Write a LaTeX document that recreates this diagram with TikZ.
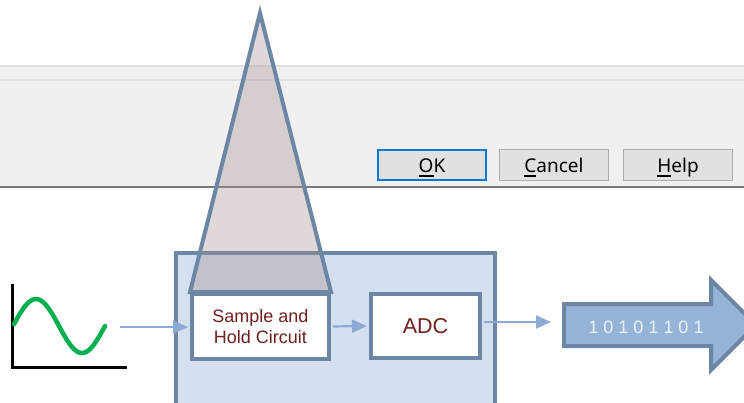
\documentclass[tikz,border=0pt]{standalone}
\usepackage{fontspec}
\setmainfont{Liberation Sans}
\newfontfamily\uifont{Noto Sans}
\usetikzlibrary{arrows.meta}

\definecolor{frame}{RGB}{108,134,163}
\definecolor{panel}{RGB}{212,223,239}
\definecolor{flowblue}{RGB}{141,170,214}
\definecolor{bigfill}{RGB}{150,180,216}
\definecolor{tri}{RGB}{166,143,143}
\definecolor{redtext}{RGB}{112,30,30}
\definecolor{sine}{RGB}{0,176,80}
\definecolor{dlgfill}{RGB}{240,240,240}
\definecolor{dlgline}{RGB}{224,224,224}
\definecolor{dlgedge}{RGB}{120,120,120}
\definecolor{btnfill}{RGB}{225,225,225}
\definecolor{btnedge}{RGB}{173,173,173}
\definecolor{okblue}{RGB}{0,120,215}
\definecolor{bitstext}{RGB}{236,241,248}

% access-key underline for button captions
\newcommand\acckey[1]{\setbox0\hbox{#1}\rlap{\rule[-4.5pt]{\wd0}{1.4pt}}\box0}

\begin{document}
\begin{tikzpicture}[x=1pt,y=-1pt,
  btn/.style={fill=btnfill, draw=btnedge, line width=1pt,
    minimum width=109pt, minimum height=31pt, inner sep=0pt,
    text height=16pt, text depth=2pt,
    font=\uifont\fontsize{19}{22}\selectfont},
  stage/.style={draw=frame, fill=white, line width=4pt, inner sep=0pt,
    text=redtext, align=center},
  flow/.style={draw=flowblue, line width=2.2pt,
    -{Triangle[length=15pt,width=13pt]}}]
\useasboundingbox (0,0) rectangle (744,402);
\clip (0,0) rectangle (744,402);

% dialog strip with its buttons
\fill[dlgfill] (0,66) rectangle (744,187);
\draw[dlgline, line width=2pt] (0,66) -- (744,66);
\draw[dlgline, line width=1.5pt] (0,80) -- (744,80);
\draw[dlgedge, line width=1.5pt] (0,187) -- (744,187);
\node[btn, draw=okblue, line width=2pt, minimum width=108pt, minimum height=30pt] (ok) at (432,165) {\acckey{O}K};
\node[btn] (cancel) at (554,165) {\acckey{C}ancel};
\node[btn] (help) at (678,165) {\acckey{H}elp};

% converter unit
\node[draw=frame, fill=panel, line width=4.5pt, minimum width=319pt, minimum height=160pt] (unit) at (335.5,333) {};
\node[stage, minimum width=137pt, minimum height=65pt, font=\fontsize{18}{21}\selectfont] (sample) at (260.5,326.5) {Sample and\\Hold Circuit};
\node[stage, minimum width=109pt, minimum height=64pt, font=\fontsize{21.5}{24}\selectfont] (adc) at (425.5,326) {ADC};

% magnifying wedge above the sample-and-hold stage
\draw[frame, line width=4pt, fill=tri, fill opacity=0.35, line join=miter]
  (260,13) -- (sample.north west) -- (sample.north east) -- cycle;

% analog input signal
\draw[black, line width=2.7pt] (12.5,284) -- (12.5,367.5) -- (127,367.5);
\draw[sine, line width=4.5pt, line cap=round]
  plot[domain=14:105, samples=80] (\x, {326 - 27*sin((\x-13)/92*360)});

% digital output arrow
\draw[frame, line width=4pt, fill=bigfill, line join=miter]
  (564,304) -- (711,304) -- (711,280) -- (756,325) -- (711,370) -- (711,346) -- (564,346) -- cycle;
\node[text=bitstext, font=\fontsize{18}{21}\selectfont, inner sep=0pt] (bits) at (646,326.8) {1 0 1 0 1 1 0 1};

% signal flow
\coordinate (src) at (120,327);
\coordinate (out) at (551,322);
\draw[flow, shorten >=2pt] (src) -- (src -| sample.west);
\draw[flow, shorten <=2pt, shorten >=2pt] (sample.east) -- (adc.west);
\draw[flow, shorten <=2pt] ([yshift=4pt]adc.east) -- (out);
\end{tikzpicture}
\end{document}
